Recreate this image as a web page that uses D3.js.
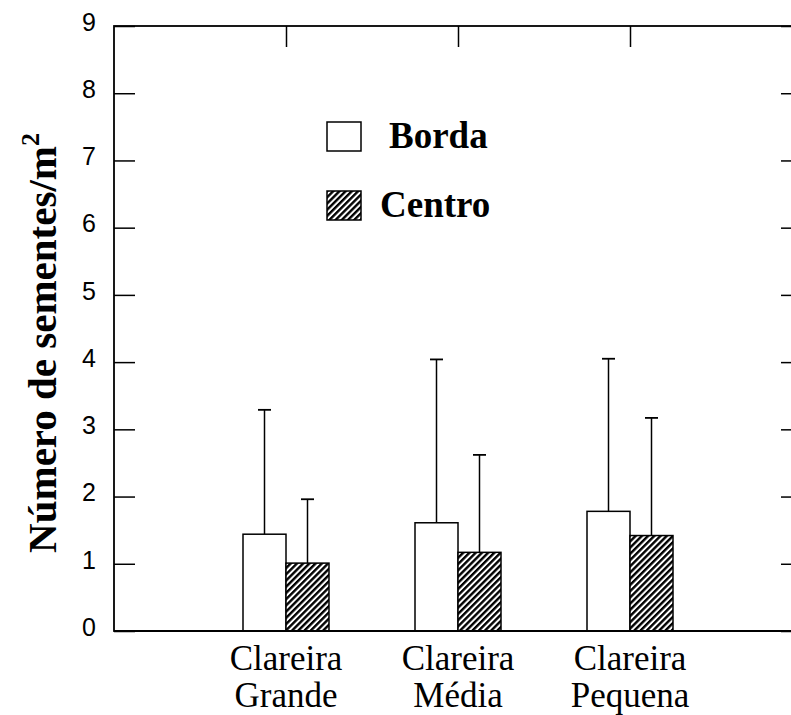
<!DOCTYPE html>
<html>
<head>
<meta charset="utf-8">
<script src="https://cdn.jsdelivr.net/npm/d3@7"></script>
<style>
  html, body { margin: 0; padding: 0; background: #fff; }
  svg { display: block; }
</style>
</head>
<body>
<div id="chart"></div>
<script>
// ---- data ----
const categories = ["Clareira Grande", "Clareira Média", "Clareira Pequena"];
const categoryLines = [["Clareira", "Grande"], ["Clareira", "Média"], ["Clareira", "Pequena"]];
const seriesNames = ["Borda", "Centro"];
const bordaMean = [1.44, 1.61, 1.78];
const bordaSD = [1.85, 2.43, 2.27];
const centroMean = [1.01, 1.17, 1.42];
const centroSD = [0.95, 1.45, 1.75];
const yTicks = [0, 1, 2, 3, 4, 5, 6, 7, 8, 9];
const yLabel = "Número de sementes/m";

// ---- layout ----
const W = 791, H = 715;
const svg = d3.select("#chart").append("svg").attr("width", W).attr("height", H);

const defs = svg.append("defs");
const pat = defs.append("pattern")
  .attr("id", "hatch")
  .attr("patternUnits", "userSpaceOnUse")
  .attr("width", 4.4).attr("height", 4.4)
  .attr("patternTransform", "rotate(45)");
pat.append("rect").attr("width", 4.4).attr("height", 4.4).attr("fill", "#fff");
pat.append("rect").attr("width", 2.4).attr("height", 4.4).attr("fill", "#000");

const x = d3.scaleLinear().domain([0, categories.length + 1]).range([114, 802]);
const y = d3.scaleLinear().domain([0, 9]).range([631, 26]);
const half = 0.25; // bar width in category units

const tickLen = 21;

// frame
svg.append("rect")
  .attr("x", x(0)).attr("y", y(9))
  .attr("width", x(categories.length + 1) - x(0))
  .attr("height", y(0) - y(9))
  .attr("fill", "none").attr("stroke", "#000").attr("stroke-width", 1.8);

// left axis (ticks inward)
const leftAxis = d3.axisLeft(y).tickValues(yTicks).tickSize(-tickLen).tickPadding(18).tickFormat(d3.format("d"));
const la = svg.append("g").attr("transform", `translate(${x(0)},0)`).call(leftAxis);
la.select(".domain").remove();
la.selectAll(".tick line").attr("stroke", "#000").attr("stroke-width", 1.5);
la.selectAll(".tick text")
  .style("font-family", "'Liberation Sans', Arial, Helvetica, sans-serif")
  .style("font-size", "25px").attr("fill", "#000").attr("dy", "0.17em");

// right axis ticks (inward)
const rightAxis = d3.axisRight(y).tickValues(yTicks).tickSize(-tickLen).tickFormat("");
const ra = svg.append("g").attr("transform", `translate(${x(categories.length + 1)},0)`).call(rightAxis);
ra.select(".domain").remove();
ra.selectAll(".tick line").attr("stroke", "#000").attr("stroke-width", 1.5);

// top axis ticks at category centers (inward)
const catIdx = categories.map((d, i) => i + 1);
const topAxis = d3.axisTop(x).tickValues(catIdx).tickSize(-tickLen).tickFormat("");
const ta = svg.append("g").attr("transform", `translate(0,${y(9)})`).call(topAxis);
ta.select(".domain").remove();
ta.selectAll(".tick line").attr("stroke", "#000").attr("stroke-width", 1.5);

// bars
const barData = [];
categories.forEach((c, i) => {
  barData.push({ cat: i + 1, s: 0, mean: bordaMean[i], sd: bordaSD[i] });
  barData.push({ cat: i + 1, s: 1, mean: centroMean[i], sd: centroSD[i] });
});
const bx0 = d => x(d.cat + (d.s === 0 ? -half : 0));
const bx1 = d => x(d.cat + (d.s === 0 ? 0 : half));
const bmid = d => (bx0(d) + bx1(d)) / 2;

const bars = svg.append("g");
bars.selectAll("line.err").data(barData).enter().append("line")
  .attr("class", "err")
  .attr("x1", bmid).attr("x2", bmid)
  .attr("y1", d => y(d.mean)).attr("y2", d => y(d.mean + d.sd))
  .attr("stroke", "#000").attr("stroke-width", 1.5);
bars.selectAll("line.cap").data(barData).enter().append("line")
  .attr("class", "cap")
  .attr("x1", d => bmid(d) - 6.5).attr("x2", d => bmid(d) + 6.5)
  .attr("y1", d => y(d.mean + d.sd)).attr("y2", d => y(d.mean + d.sd))
  .attr("stroke", "#000").attr("stroke-width", 1.8);

bars.selectAll("rect.bar").data(barData).enter().append("rect")
  .attr("class", "bar")
  .attr("x", bx0)
  .attr("width", d => bx1(d) - bx0(d))
  .attr("y", d => y(d.mean))
  .attr("height", d => y(0) - y(d.mean))
  .attr("fill", d => d.s === 0 ? "#fff" : "url(#hatch)")
  .attr("stroke", "#000").attr("stroke-width", 1.5);

svg.append("line").attr("x1", x(0)).attr("x2", x(categories.length + 1))
  .attr("y1", y(0)).attr("y2", y(0)).attr("stroke", "#000").attr("stroke-width", 2);

// category labels
const serif = "'Liberation Serif', 'Times New Roman', Times, serif";
const cl = svg.append("g");
categoryLines.forEach((lines, i) => {
  lines.forEach((ln, j) => {
    cl.append("text")
      .attr("text-anchor", "middle")
      .style("font-family", serif).style("font-size", "35px").attr("fill", "#000")
      .attr("x", x(i + 1)).attr("y", 670 + j * 37).text(ln);
  });
});

// y-axis label
const yl = svg.append("text")
  .attr("transform", "translate(56,343) rotate(-90)")
  .attr("text-anchor", "middle")
  .style("font-family", serif).style("font-weight", "bold")
  .style("font-size", "41px").attr("fill", "#000");
yl.append("tspan").text(yLabel);
yl.append("tspan").style("font-size", "26px").attr("dy", -17).text("2");

// legend
const legend = svg.append("g");
const legY = [122, 191];
const legTextX = [389, 380];
seriesNames.forEach((s, i) => {
  legend.append("rect")
    .attr("x", 327).attr("y", legY[i]).attr("width", 34).attr("height", 29)
    .attr("fill", i === 0 ? "#fff" : "url(#hatch)")
    .attr("stroke", "#000").attr("stroke-width", 1.5);
  legend.append("text")
    .attr("x", legTextX[i]).attr("y", legY[i] + 26)
    .style("font-family", serif).style("font-weight", "bold")
    .style("font-size", "37px").attr("fill", "#000")
    .text(s);
});
</script>
</body>
</html>
